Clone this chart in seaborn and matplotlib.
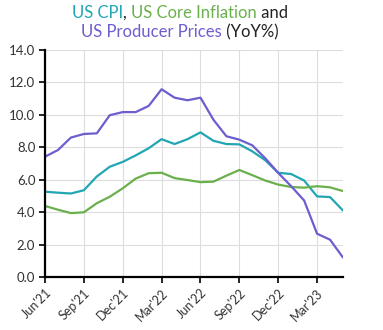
import matplotlib
matplotlib.use("Agg")
import matplotlib.pyplot as plt
import seaborn as sns
import pandas as pd
import numpy as np

months = ["Jun'21", "Jul'21", "Aug'21", "Sep'21", "Oct'21", "Nov'21", "Dec'21",
          "Jan'22", "Feb'22", "Mar'22", "Apr'22", "May'22", "Jun'22", "Jul'22",
          "Aug'22", "Sep'22", "Oct'22", "Nov'22", "Dec'22", "Jan'23", "Feb'23",
          "Mar'23", "Apr'23", "May'23"]
cpi = [5.26, 5.2, 5.15, 5.35, 6.2, 6.8, 7.1, 7.5, 7.94, 8.5, 8.2, 8.5, 8.92,
       8.4, 8.2, 8.18, 7.75, 7.2, 6.43, 6.35, 5.95, 4.97, 4.93, 4.1]
core = [4.38, 4.15, 3.94, 3.99, 4.55, 4.95, 5.47, 6.07, 6.4, 6.43, 6.1, 5.98,
        5.85, 5.88, 6.25, 6.6, 6.28, 5.95, 5.7, 5.55, 5.51, 5.6, 5.53, 5.3]
ppi = [7.42, 7.83, 8.6, 8.82, 8.86, 9.98, 10.17, 10.17, 10.55, 11.58, 11.06, 10.9,
       11.06, 9.7, 8.68, 8.47, 8.12, 7.32, 6.42, 5.6, 4.72, 2.67, 2.3, 1.2]
series_names = ["US CPI", "US Core Inflation", "US Producer Prices"]
colors = ["#22a6b3", "#6ab04c", "#6c5ecf"]
tick_months = ["Jun'21", "Sep'21", "Dec'21", "Mar'22", "Jun'22", "Sep'22", "Dec'22", "Mar'23"]

sns.set_theme(style="whitegrid")
plt.rcParams['font.family'] = ['Lato', 'DejaVu Sans']

df = pd.DataFrame({
    "idx": list(range(len(months))) * 3,
    "value": cpi + core + ppi,
    "series": [series_names[0]] * len(months) + [series_names[1]] * len(months) + [series_names[2]] * len(months),
})

fig = plt.figure(figsize=(3.83, 3.30), dpi=100)
ax = fig.add_axes([45/383, 1 - 277/330, (343-45)/383, (277-50)/330])
sns.lineplot(data=df, x="idx", y="value", hue="series", palette=colors,
             linewidth=1.6, legend=False, ax=ax)

ax.set_xlim(0, len(months) - 1)
ax.set_ylim(0, 14)
ax.set_yticks(np.arange(0, 14.1, 2))
ax.set_yticklabels([f"{v:.1f}" for v in np.arange(0, 14.1, 2)], fontsize=9.5, color="#333333")
tick_pos = [months.index(m) for m in tick_months]
ax.set_xticks(tick_pos)
ax.set_xticklabels(tick_months, rotation=45, ha="right", rotation_mode="anchor", fontsize=9, color="#333333")
ax.set_xlabel("")
ax.set_ylabel("")
ax.grid(True, color="#dddddd", linewidth=0.8)
for s in ["top", "right"]:
    ax.spines[s].set_visible(False)
for s in ["left", "bottom"]:
    ax.spines[s].set_visible(True)
    ax.spines[s].set_color("black")
    ax.spines[s].set_linewidth(1.6)
ax.tick_params(axis="both", which="both", length=4, width=1.2, color="black", bottom=True, left=True, pad=3)

# Colored title
def colored_line(parts, y, fs=12):
    r = fig.canvas.get_renderer()
    texts = []
    total = 0
    for s, c in parts:
        t = fig.text(0, y, s, color=c, fontsize=fs, ha="left", va="center")
        w = t.get_window_extent(renderer=r).width
        texts.append((t, w))
        total += w
    x = 180 - total / 2
    for t, w in texts:
        t.set_x(x / 383)
        x += w

colored_line([("US CPI", colors[0]), (", ", "#222222"), ("US Core Inflation", colors[1]), (" and", "#222222")], 1 - 13/330)
colored_line([("US Producer Prices", colors[2]), (" (YoY%)", "#222222")], 1 - 32/330)

fig.savefig("out.png", dpi=100)
